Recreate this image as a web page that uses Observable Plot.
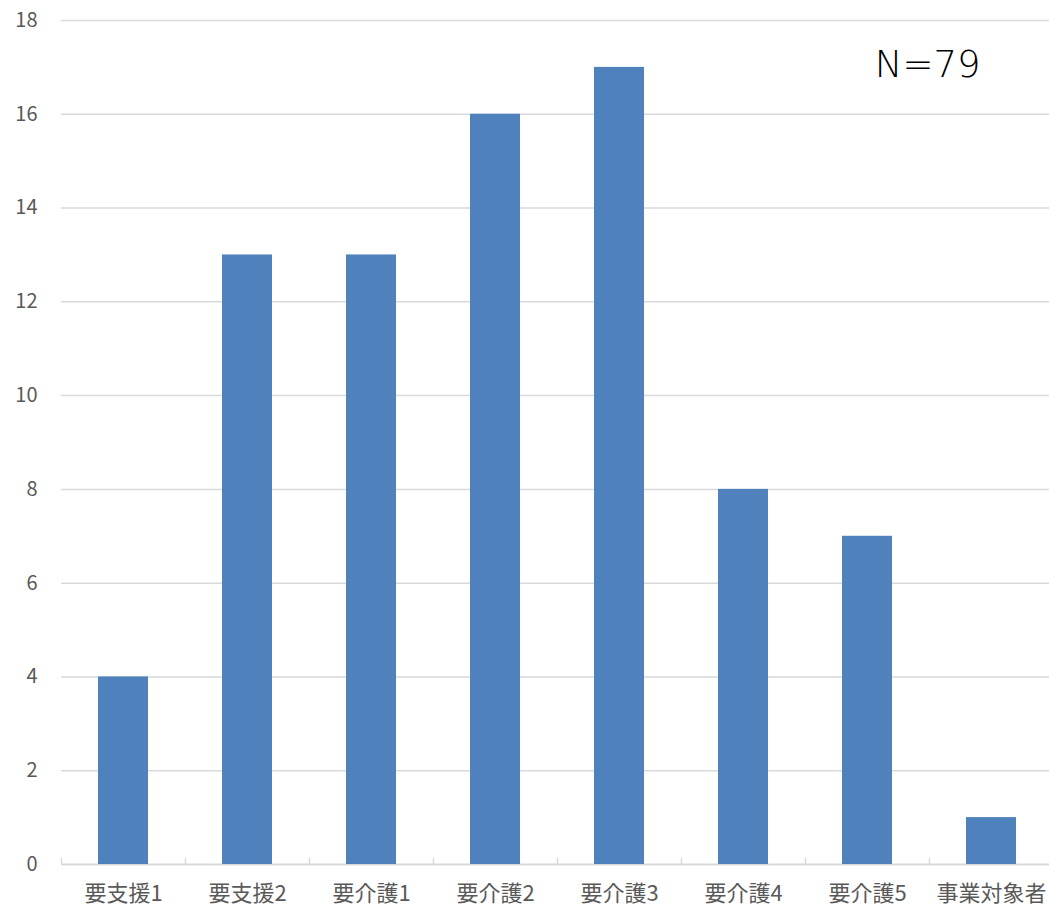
<!DOCTYPE html>
<html>
<head>
<meta charset="utf-8">
<script src="https://cdn.jsdelivr.net/npm/d3@7"></script>
<script src="https://cdn.jsdelivr.net/npm/@observablehq/plot@0.6"></script>
<style>
  html, body { margin: 0; padding: 0; background: #fff; }
  #chart svg { display: block; }
</style>
</head>
<body>
<div id="chart"></div>
<script>
// Care-level categories and respondent counts
const categories = ["要支援1", "要支援2", "要介護1", "要介護2", "要介護3", "要介護4", "要介護5", "事業対象者"];
const counts = [4, 13, 13, 16, 17, 8, 7, 1];
const yTicks = [0, 2, 4, 6, 8, 10, 12, 14, 16, 18];
const sampleLabel = "N=79";

const rows = categories.map((c, i) => ({category: c, count: counts[i]}));

const W = 1049, H = 908;
const left = 61, step = 124;

const chart = Plot.plot({
  width: W,
  height: H,
  marginLeft: left,
  marginRight: 0,
  marginTop: 20,
  marginBottom: 44,
  style: {fontFamily: "'Noto Sans CJK JP', 'Noto Sans', sans-serif", color: "#595959", background: "#fff"},
  x: {domain: categories, range: [left, left + step * categories.length], paddingInner: 0.6, paddingOuter: 0.3, label: null},
  y: {domain: [0, 18], label: null},
  marks: [
    Plot.gridY(yTicks.slice(1), {stroke: "#d9d9d9", strokeOpacity: 1, strokeWidth: 1.5}),
    Plot.ruleY([0], {stroke: "#d9d9d9", strokeWidth: 2}),
    // category separators rising from the baseline
    Plot.ruleX(categories, {x: d => d, dx: -step / 2, y1: 0, y2: 0, insetTop: -6, stroke: "#d9d9d9", strokeWidth: 1.5}),
    Plot.barY(rows, {x: "category", y: "count", fill: "#4f81bd"}),
    Plot.axisY(yTicks, {tickSize: 0, tickPadding: 24, fontSize: 20, fill: "#595959", tickFormat: d => String(d)}),
    Plot.axisX({tickSize: 0, tickPadding: 0, dy: 21, fontSize: 22, fill: "#595959"}),
    Plot.text([sampleLabel], {frameAnchor: "top-right", dx: -69, dy: 45, textAnchor: "end", lineAnchor: "middle", fontSize: 37, fill: "#000", fontFamily: "'DejaVu Sans', sans-serif", fontWeight: 200})
  ]
});

document.getElementById("chart").appendChild(chart);
</script>
</body>
</html>
